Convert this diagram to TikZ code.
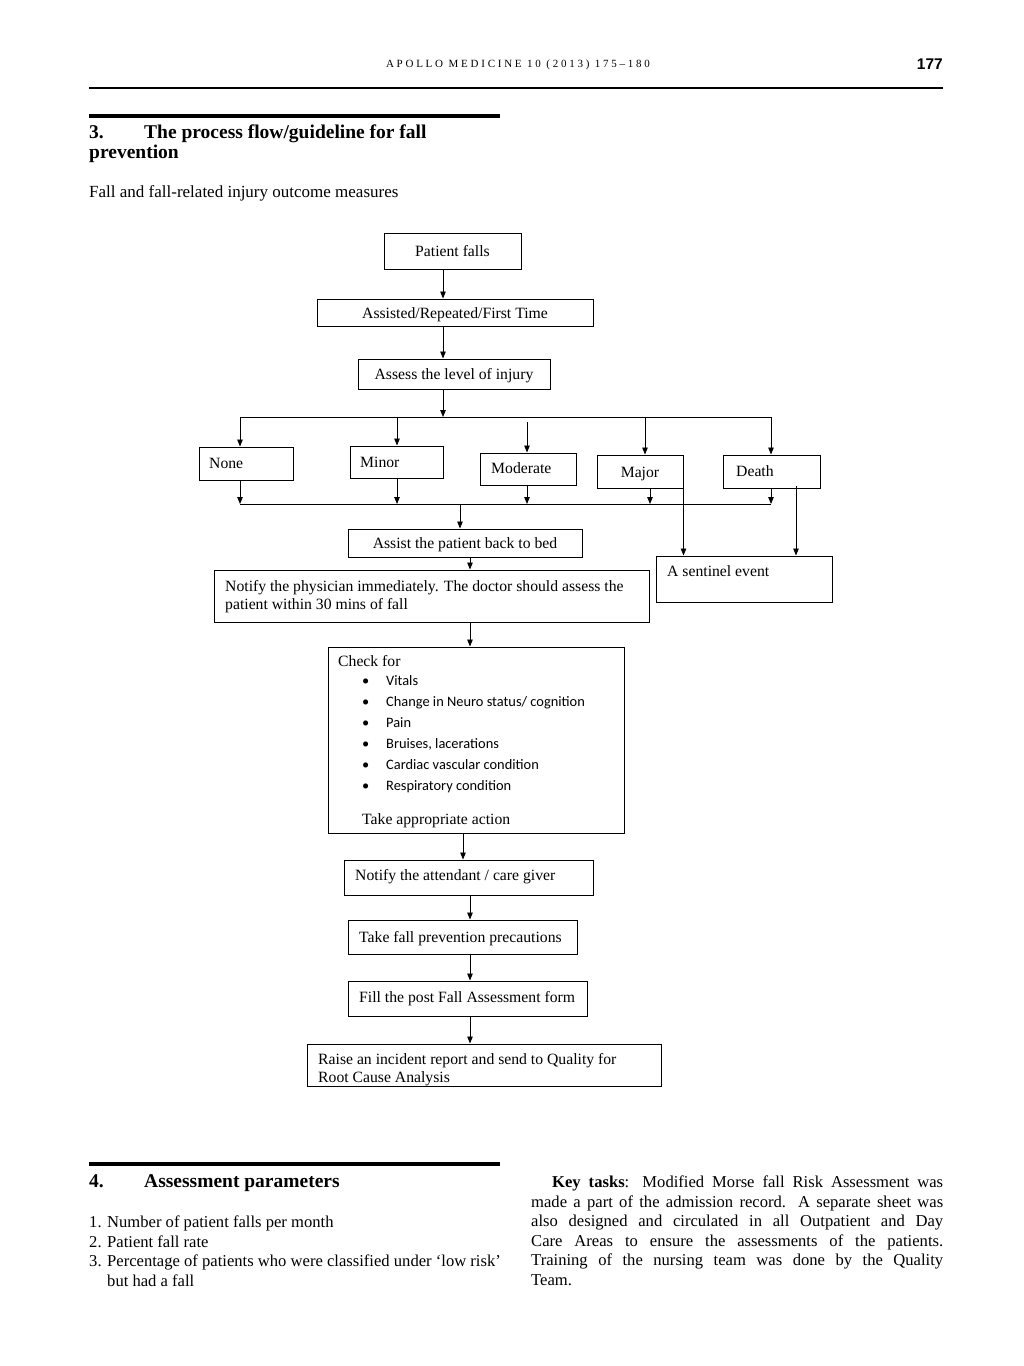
\documentclass[tikz,border=0pt]{standalone}
\usepackage{fontspec}
\setmainfont{Liberation Serif}
\newfontfamily\calfont{Carlito}
\newfontfamily\pgnfont{Liberation Sans}
\usetikzlibrary{arrows.meta}
\begin{document}
\begin{tikzpicture}[x=1pt,y=-1pt,
  box/.style={draw, line width=1pt, inner sep=0pt, font=\fontsize{15.7}{18.5}\selectfont, align=center},
  one/.style={text height=12.8pt, text depth=1.6pt},
  arr/.style={draw, line width=0.9pt, -{Triangle[length=7pt,width=5.5pt]}},
  conn/.style={draw, line width=0.9pt},
  bodyl/.style={anchor=base west, inner sep=0pt, yshift=-1.5pt, font=\fontsize{16.6}{19.7}\selectfont},
  headl/.style={anchor=base west, inner sep=0pt, yshift=-1.5pt, font=\bfseries\fontsize{19.5}{21}\selectfont},
  fct/.style={anchor=base west, inner sep=0pt, yshift=-2pt, font=\fontsize{15.7}{18.5}\selectfont},
  bul/.style={anchor=base west, inner sep=0pt, yshift=-2pt, font=\calfont\fontsize{14.4}{17}\selectfont},
]
\fill[white] (0,0) rectangle (1024,1366);
\useasboundingbox (0,0) rectangle (1024,1366);

% ---------- page header ----------
\node[anchor=base, inner sep=0pt] (hdr) at (518,67.5) {\fontsize{11}{13}\selectfont\addfontfeature{LetterSpace=25}APOLLO MEDICINE 10 (2013) 175–180};
\node[anchor=base east, inner sep=0pt] (pg) at (943,69) {\pgnfont\bfseries\fontsize{15.5}{18}\selectfont 177};
\draw[line width=1.3pt] (89,88) -- (943,88);

% ---------- section 3 ----------
\draw[line width=4.5pt] (89,116) -- (500,116);
\node[headl] (h3n) at (89,137) {3.};
\node[headl] (h3a) at (144,137) {The process flow/guideline for fall};
\node[headl] (h3b) at (89,157) {prevention};
\node[bodyl, font=\fontsize{17}{19.7}\selectfont] (fallm) at (89,196) {Fall and fall-related injury outcome measures};

% ---------- flowchart boxes ----------
\node[box, one, minimum width=137, minimum height=36] (pf) at (452.5,251) {Patient falls};
\node[box, one, minimum width=276, minimum height=27] (arf) at (455,312.5) {Assisted/Repeated/First Time};
\node[box, one, minimum width=192, minimum height=30] (ali) at (454,374) {Assess the level of injury};

\node[box, minimum width=94, minimum height=33] (none) at (246,463.5) {};
\node[fct] (none-t) at (209,466.5) {None};
\node[box, minimum width=93, minimum height=32] (minor) at (396.5,462) {};
\node[fct] (minor-t) at (360,465) {Minor};
\node[box, minimum width=96, minimum height=32] (moderate) at (528,469) {};
\node[fct] (moderate-t) at (491,471) {Moderate};
\node[box, one, minimum width=86, minimum height=33] (major) at (640,471.5) {Major};
\node[box, minimum width=97, minimum height=33] (death) at (771.5,471.5) {};
\node[fct] (death-t) at (736,474) {Death};

\node[box, one, minimum width=234, minimum height=28] (assist) at (465,543) {Assist the patient back to bed};

\node[box, minimum width=435, minimum height=52] (notify) at (431.5,596) {};
\node[fct] (notify-t1) at (225,589.6) {Notify the physician immediately. The doctor should assess the};
\node[fct] (notify-t2) at (225,607.6) {patient within 30 mins of fall};

\node[box, minimum width=176, minimum height=46] (sentinel) at (744,579) {};
\node[fct] (sentinel-t) at (667,574.6) {A sentinel event};

\node[box, minimum width=296, minimum height=186] (check) at (476,740) {};
\node[fct] (check-t) at (338,664.6) {Check for};
\foreach \i/\t in {0/{Vitals}, 1/{Change in Neuro status/ cognition}, 2/{Pain}, 3/{Bruises, lacerations}, 4/{Cardiac vascular condition}, 5/{Respiratory condition}}{
  \node[bul] (bd\i) at (362,683.5+21*\i) {•};
  \node[bul] (bt\i) at (386,683.5+21*\i) {\t};
}
\node[fct] (check-a) at (362,822.6) {Take appropriate action};

\node[box, minimum width=249, minimum height=35] (attend) at (468.5,877.5) {};
\node[fct] (attend-t) at (355,878.6) {Notify the attendant / care giver};
\node[box, minimum width=229, minimum height=34] (take) at (462.5,937) {};
\node[fct] (take-t) at (359,940.6) {Take fall prevention precautions};
\node[box, minimum width=239, minimum height=35] (fill) at (467.5,998.5) {};
\node[fct] (fill-t) at (359,1000.6) {Fill the post Fall Assessment form};
\node[box, minimum width=354, minimum height=42] (raise) at (484,1065) {};
\node[fct] (raise-t1) at (318,1062.6) {Raise an incident report and send to Quality for};
\node[fct] (raise-t2) at (318,1080.6) {Root Cause Analysis};

% ---------- connectors ----------
\coordinate (cA) at (443,417);
\draw[arr] (pf.south -| cA) -- (arf.north -| cA);
\draw[arr] (arf.south -| cA) -- (ali.north -| cA);
\draw[arr] (ali.south -| cA) -- (cA);

\coordinate (tL) at (240,417);
\coordinate (tM) at (397,417);
\coordinate (tMo) at (527,422);
\coordinate (tMa) at (645,417);
\coordinate (tR) at (771,417);
\draw[conn] (tL) -- (tR);
\draw[arr] (tL) -- (tL |- none.north);
\draw[arr] (tM) -- (tM |- minor.north);
\draw[arr] (tMo) -- (tMo |- moderate.north);
\draw[arr] (tMa) -- (tMa |- major.north);
\draw[arr] (tR) -- (tR |- death.north);

\coordinate (bL) at (240,504);
\coordinate (bM) at (397,504);
\coordinate (bMo) at (527,504);
\coordinate (bMa) at (650,504);
\coordinate (bR) at (771,504);
\coordinate (bC) at (460,504);
\draw[conn] (bL) -- (bR);
\draw[arr] (none.south -| bL) -- (bL);
\draw[arr] (minor.south -| bM) -- (bM);
\draw[arr] (moderate.south -| bMo) -- (bMo);
\draw[arr] (major.south -| bMa) -- (bMa);
\draw[arr] (death.south -| bR) -- (bR);
\draw[arr] (bC) -- (bC |- assist.north);

\draw[arr] (major.south east) -- (major.south east |- sentinel.north);
\coordinate (dX) at (796,486);
\draw[arr] (dX) -- (dX |- sentinel.north);

\coordinate (cB) at (470,0);
\coordinate (cC) at (463,0);
\draw[arr] (assist.south -| cB) -- (notify.north -| cB);
\draw[arr] (notify.south -| cB) -- (check.north -| cB);
\draw[arr] (check.south -| cC) -- (attend.north -| cC);
\draw[arr] (attend.south -| cB) -- (take.north -| cB);
\draw[arr] (take.south -| cB) -- (fill.north -| cB);
\draw[arr] (fill.south -| cB) -- (raise.north -| cB);

% ---------- section 4 ----------
\draw[line width=4.5pt] (89,1164) -- (500,1164);
\node[headl] (h4n) at (89,1186) {4.};
\node[headl] (h4a) at (144,1186) {Assessment parameters};
\node[bodyl] (l1) at (89,1225.5) {1. Number of patient falls per month};
\node[bodyl] (l2) at (89,1245.5) {2. Patient fall rate};
\node[bodyl] (l3) at (89,1264.5) {3. Percentage of patients who were classified under ‘low risk’};
\node[bodyl] (l3b) at (107,1284.5) {but had a fall};

\node[bodyl] (k1) at (552,1186) {\makebox[391pt][s]{\textbf{Key tasks}: Modified Morse fall Risk Assessment was}};
\node[bodyl] (k2) at (531,1205.5) {\makebox[412pt][s]{made a part of the admission record. A separate sheet was}};
\node[bodyl] (k3) at (531,1225) {\makebox[412pt][s]{also designed and circulated in all Outpatient and Day}};
\node[bodyl] (k4) at (531,1244.5) {\makebox[412pt][s]{Care Areas to ensure the assessments of the patients.}};
\node[bodyl] (k5) at (531,1264) {\makebox[412pt][s]{Training of the nursing team was done by the Quality}};
\node[bodyl] (k6) at (531,1284) {Team.};
\end{tikzpicture}
\end{document}
